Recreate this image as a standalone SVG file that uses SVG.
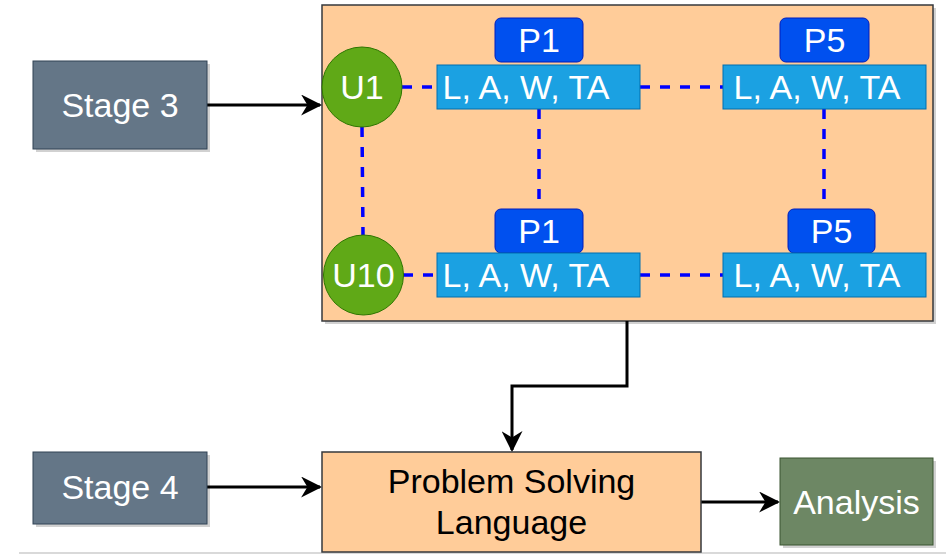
<svg xmlns="http://www.w3.org/2000/svg" width="946" height="555" viewBox="0 0 946 555">
<defs>
<style>
text{font-family:"Liberation Sans",Arial,sans-serif;font-size:34px;text-anchor:middle}
.w{fill:#ffffff}
.k{fill:#000000}
.stage{fill:#647687;stroke:#314354;stroke-width:1}
.shadow{fill:#000000;opacity:0.18}
.user{fill:#60A917;stroke:#2D7600;stroke-width:1}
.attr{fill:#1BA1E2;stroke:#006EAF;stroke-width:1}
.prob{fill:#0050EF;stroke:#001DBC;stroke-width:1}
.peach{fill:#FFCC99;stroke:#36393d;stroke-width:1.5}
.dash{stroke:#0000FF;stroke-width:3.5;stroke-dasharray:10,10;fill:none}
.arrow{stroke:#000000;stroke-width:3;fill:none}
</style>
<marker id="ah" viewBox="0 0 10 10" refX="9" refY="5" markerWidth="7" markerHeight="7" orient="auto" markerUnits="strokeWidth">
<path d="M0,0 L10,5 L0,10 L3,5 Z" fill="#000000"/>
</marker>
</defs>
<rect width="946" height="555" fill="#ffffff"/>
<line x1="19" y1="553" x2="946" y2="553" stroke="#cccccc" stroke-width="1.5"/>

<g id="container">
<rect class="shadow" x="325" y="8" width="611" height="316"/>
<rect class="peach" x="322" y="5" width="611" height="316" stroke="#666666"/>
</g>

<g id="connectors">
<line class="arrow" x1="207" y1="105" x2="320" y2="105" marker-end="url(#ah)"/>
<polyline class="arrow" points="627,321 627,386 512,386 512,450" marker-end="url(#ah)"/>
<line class="arrow" x1="207" y1="487" x2="320" y2="487" marker-end="url(#ah)"/>
<line class="arrow" x1="701" y1="502" x2="778" y2="502" marker-end="url(#ah)"/>
<line class="dash" x1="402" y1="87" x2="437" y2="87"/>
<line class="dash" x1="403" y1="275" x2="437" y2="275"/>
<line class="dash" x1="640" y1="87" x2="723" y2="87"/>
<line class="dash" x1="640" y1="275" x2="723" y2="275"/>
<line class="dash" x1="362" y1="127" x2="363" y2="235"/>
<line class="dash" x1="539" y1="109" x2="539" y2="209"/>
<line class="dash" x1="824" y1="109" x2="824" y2="209"/>
</g>

<g id="stage3">
<rect class="shadow" x="36" y="64" width="174" height="88"/>
<rect class="stage" x="33" y="61" width="174" height="88"/>
<text class="w" x="120" y="117">Stage 3</text>
</g>

<g id="stage4">
<rect class="shadow" x="36" y="455" width="174" height="72"/>
<rect class="stage" x="33" y="452" width="174" height="72"/>
<text class="w" x="120" y="499">Stage 4</text>
</g>

<g id="u1">
<circle class="user" cx="362" cy="87" r="40"/>
<text class="w" x="362" y="99">U1</text>
</g>
<g id="u10">
<circle class="user" cx="363.5" cy="275" r="40"/>
<text class="w" x="363.5" y="287">U10</text>
</g>

<g id="p1top">
<rect class="prob" x="495" y="18" width="88" height="44" rx="6"/>
<text class="w" x="539" y="52">P1</text>
</g>
<g id="p5top">
<rect class="prob" x="780" y="18" width="89" height="44" rx="6"/>
<text class="w" x="824.5" y="52">P5</text>
</g>
<g id="p1bot">
<rect class="prob" x="495" y="209" width="88" height="44" rx="6"/>
<text class="w" x="539" y="243">P1</text>
</g>
<g id="p5bot">
<rect class="prob" x="788" y="209" width="87" height="44" rx="6"/>
<text class="w" x="831.5" y="243">P5</text>
</g>

<g id="attr1">
<rect class="attr" x="437" y="65" width="203" height="44"/>
<text class="w" x="526" y="99">L, A, W, TA</text>
</g>
<g id="attr2">
<rect class="attr" x="723" y="65" width="203" height="44"/>
<text class="w" x="817" y="99">L, A, W, TA</text>
</g>
<g id="attr3">
<rect class="attr" x="437" y="253" width="203" height="44"/>
<text class="w" x="526" y="287">L, A, W, TA</text>
</g>
<g id="attr4">
<rect class="attr" x="723" y="253" width="203" height="44"/>
<text class="w" x="817" y="287">L, A, W, TA</text>
</g>

<g id="psl">
<rect class="peach" x="322" y="452" width="379" height="100"/>
<text class="k" x="511.5" y="493">Problem Solving</text>
<text class="k" x="511.5" y="534">Language</text>
</g>

<g id="analysis">
<rect class="shadow" x="783" y="461" width="153" height="87"/>
<rect x="780" y="458" width="153" height="87" fill="#6D8764" stroke="#3A5431" stroke-width="1"/>
<text class="w" x="856.5" y="514">Analysis</text>
</g>
</svg>
